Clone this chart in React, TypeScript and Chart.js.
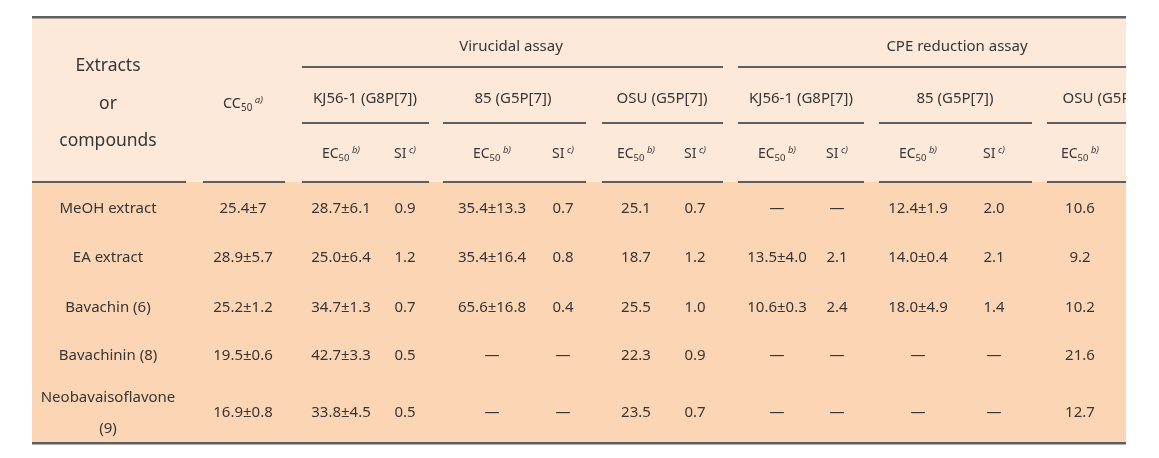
import { useEffect, useRef } from "react";
import { Chart, registerables } from "chart.js";

Chart.register(...registerables);

// ---------- data ----------
const compounds = ["MeOH extract", "EA extract", "Bavachin (6)", "Bavachinin (8)", "Neobavaisoflavone (9)"];
const cc50 = ["25.4±7", "28.9±5.7", "25.2±1.2", "19.5±0.6", "16.9±0.8"];
const viruKJ56EC50 = ["28.7±6.1", "25.0±6.4", "34.7±1.3", "42.7±3.3", "33.8±4.5"];
const viruKJ56SI = ["0.9", "1.2", "0.7", "0.5", "0.5"];
const viru85EC50 = ["35.4±13.3", "35.4±16.4", "65.6±16.8", "—", "—"];
const viru85SI = ["0.7", "0.8", "0.4", "—", "—"];
const viruOSUEC50 = ["25.1", "18.7", "25.5", "22.3", "23.5"];
const viruOSUSI = ["0.7", "1.2", "1.0", "0.9", "0.7"];
const cpeKJ56EC50 = ["—", "13.5±4.0", "10.6±0.3", "—", "—"];
const cpeKJ56SI = ["—", "2.1", "2.4", "—", "—"];
const cpe85EC50 = ["12.4±1.9", "14.0±0.4", "18.0±4.9", "—", "—"];
const cpe85SI = ["2.0", "2.1", "1.4", "—", "—"];
const cpeOSUEC50 = ["10.6", "9.2", "10.2", "21.6", "12.7"];
const assays = ["Virucidal assay", "CPE reduction assay"];
const strains = ["KJ56-1 (G8P[7])", "85 (G5P[7])", "OSU (G5P[7])"];
const firstHeader = ["Extracts", "or", "compounds"];

// ---------- layout (scale units) ----------
const W = 1159;
const H = 458;
const TABLE = { left: 32, right: 1126, top: 17, headBottom: 182, bottom: 443 };
const nameX = 108;
const ccX = 243;
const valueCols = [
  { x: 341, kind: "EC", data: viruKJ56EC50 },
  { x: 405, kind: "SI", data: viruKJ56SI },
  { x: 492, kind: "EC", data: viru85EC50 },
  { x: 563, kind: "SI", data: viru85SI },
  { x: 636, kind: "EC", data: viruOSUEC50 },
  { x: 695, kind: "SI", data: viruOSUSI },
  { x: 777, kind: "EC", data: cpeKJ56EC50 },
  { x: 837, kind: "SI", data: cpeKJ56SI },
  { x: 918, kind: "EC", data: cpe85EC50 },
  { x: 994, kind: "SI", data: cpe85SI },
  { x: 1080, kind: "EC", data: cpeOSUEC50 },
];
const assaySpans = [
  [302, 723],
  [738, 1180],
];
const assayLabelX = [511, 957];
const strainSpans = [
  [302, 429],
  [443, 586],
  [602, 723],
  [738, 864],
  [879, 1032],
  [1047, 1190],
];
const strainLabelX = [365, 513, 662, 801, 955, 1108];
const headBottomSpans = [
  [32, 186],
  [203, 285],
  ...strainSpans,
];
const yAssay = 46;
const yAssayLine = 67;
const yStrain = 98;
const yStrainLine = 123;
const yEC = 153;
const yFirstHeader = [65, 103, 140];
const yCC = 103;
const rowY = [208, 257, 307, 355, 412];

const FONT = '"Noto Sans", "Open Sans", sans-serif';
const TEXT = "#363636";
const RULE = "#5e5e5e";

function drawCentered(ctx: CanvasRenderingContext2D, text: string, x: number, y: number, size: number) {
  ctx.font = `${size}px ${FONT}`;
  ctx.textAlign = "center";
  ctx.textBaseline = "alphabetic";
  ctx.fillText(text, x, y + size * 0.36);
}

function drawSubSup(
  ctx: CanvasRenderingContext2D,
  main: string,
  sub: string,
  sup: string,
  x: number,
  y: number,
  size: number
) {
  const subSize = size * 0.68;
  const supSize = size * 0.66;
  ctx.textBaseline = "alphabetic";
  ctx.textAlign = "left";
  ctx.font = `${size}px ${FONT}`;
  const wMain = ctx.measureText(main).width;
  ctx.font = `${subSize}px ${FONT}`;
  const wSub = sub ? ctx.measureText(sub).width : 0;
  ctx.font = `italic ${supSize}px ${FONT}`;
  const wSup = ctx.measureText(sup).width;
  const gap = 2.5;
  const total = wMain + wSub + gap + wSup;
  let cx = x - total / 2;
  const base = y + size * 0.36;
  ctx.font = `${size}px ${FONT}`;
  ctx.fillText(main, cx, base);
  cx += wMain;
  if (sub) {
    ctx.font = `${subSize}px ${FONT}`;
    ctx.fillText(sub, cx, base + size * 0.18);
    cx += wSub;
  }
  cx += gap;
  ctx.font = `italic ${supSize}px ${FONT}`;
  ctx.fillText(sup, cx, base - size * 0.38);
}

const tablePlugin = {
  id: "tablePlugin",
  beforeDraw(chart: any) {
    const ctx: CanvasRenderingContext2D = chart.ctx;
    const sx = chart.scales.x;
    const sy = chart.scales.y;
    const X = (v: number) => sx.getPixelForValue(v);
    const Y = (v: number) => sy.getPixelForValue(v);
    ctx.save();
    ctx.fillStyle = "#ffffff";
    ctx.fillRect(0, 0, chart.width, chart.height);
    ctx.fillStyle = "#fde9da";
    ctx.fillRect(X(TABLE.left), Y(TABLE.top), X(TABLE.right) - X(TABLE.left), Y(TABLE.headBottom) - Y(TABLE.top));
    ctx.fillStyle = "#fcd5b5";
    ctx.fillRect(X(TABLE.left), Y(TABLE.headBottom), X(TABLE.right) - X(TABLE.left), Y(TABLE.bottom) - Y(TABLE.headBottom));
    ctx.restore();
  },
  afterDraw(chart: any) {
    const ctx: CanvasRenderingContext2D = chart.ctx;
    const sx = chart.scales.x;
    const sy = chart.scales.y;
    const X = (v: number) => sx.getPixelForValue(v);
    const Y = (v: number) => sy.getPixelForValue(v);
    ctx.save();
    ctx.beginPath();
    ctx.rect(X(TABLE.left), 0, X(TABLE.right) - X(TABLE.left), chart.height);
    ctx.clip();

    // rules
    const hline = (x1: number, x2: number, y: number, w: number, color: string) => {
      ctx.fillStyle = color;
      ctx.fillRect(X(x1), Y(y) - w / 2, X(x2) - X(x1), w);
    };
    hline(TABLE.left, TABLE.right, TABLE.top, 2, RULE);
    hline(TABLE.left, TABLE.right, TABLE.top + 1.5, 1, "#a9a39e");
    hline(TABLE.left, TABLE.right, TABLE.bottom, 2, RULE);
    hline(TABLE.left, TABLE.right, TABLE.bottom + 1.5, 1, "#b0b0b0");
    assaySpans.forEach(([a, b]) => hline(a, b, yAssayLine, 2, RULE));
    strainSpans.forEach(([a, b]) => hline(a, b, yStrainLine, 2, RULE));
    headBottomSpans.forEach(([a, b]) => hline(a, b, TABLE.headBottom, 2, RULE));

    ctx.fillStyle = TEXT;
    // header
    firstHeader.forEach((t, i) => drawCentered(ctx, t, X(nameX), Y(yFirstHeader[i]), 17.5));
    drawSubSup(ctx, "CC", "50", "a)", X(ccX), Y(yCC), 14.5);
    assays.forEach((t, i) => drawCentered(ctx, t, X(assayLabelX[i]), Y(yAssay), 15));
    strainLabelX.forEach((x, i) => drawCentered(ctx, strains[i % strains.length], X(x), Y(yStrain), 15));
    valueCols.forEach((c) => {
      if (c.kind === "EC") drawSubSup(ctx, "EC", "50", "b)", X(c.x), Y(yEC), 14);
      else drawSubSup(ctx, "SI", "", "c)", X(c.x), Y(yEC), 14);
    });

    // body
    compounds.forEach((name, r) => {
      ctx.font = `15px ${FONT}`;
      const y = Y(rowY[r]);
      if (ctx.measureText(name).width > 140) {
        const k = name.lastIndexOf(" ");
        drawCentered(ctx, name.slice(0, k), X(nameX), y - 15.5, 15);
        drawCentered(ctx, name.slice(k + 1), X(nameX), y + 15.5, 15);
      } else {
        drawCentered(ctx, name, X(nameX), y, 15);
      }
      drawCentered(ctx, cc50[r], X(ccX), y, 15);
      valueCols.forEach((c) => drawCentered(ctx, c.data[r], X(c.x), y, 15));
    });
    ctx.restore();
  },
};

export default function App() {
  const ref = useRef<HTMLCanvasElement | null>(null);
  useEffect(() => {
    document.body.style.margin = "0";
    if (!ref.current) return;
    const chart = new Chart(ref.current, {
      type: "scatter",
      data: { datasets: [{ data: [], showLine: false }] },
      options: {
        animation: false,
        responsive: false,
        maintainAspectRatio: false,
        devicePixelRatio: 1,
        layout: { padding: 0 },
        plugins: { legend: { display: false }, tooltip: { enabled: false }, title: { display: false } },
        scales: {
          x: { type: "linear", min: 0, max: W, display: false },
          y: { type: "linear", min: 0, max: H, reverse: true, display: false },
        },
      },
      plugins: [tablePlugin],
    });
    return () => chart.destroy();
  }, []);
  return (
    <div style={{ width: W, height: H }}>
      <canvas ref={ref} width={W} height={H} style={{ display: "block" }} />
    </div>
  );
}
